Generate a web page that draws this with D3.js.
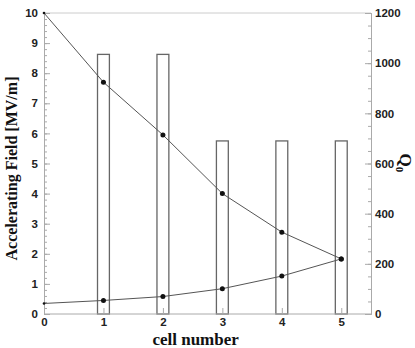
<!DOCTYPE html>
<html lang="en">
<head>
<meta charset="utf-8">
<title>Accelerating Field and Q0</title>
<style>
	body { margin: 0; background: #fff; }
	.tick text { font-family: "Liberation Sans", Arial, sans-serif; font-weight: bold; font-size: 11.5px; fill: #222; }
	.lbl { font-family: "Liberation Serif", "Times New Roman", serif; font-weight: bold; fill: #111; }
</style>
</head>
<body>
<div id="chart"></div>
<script src="https://cdn.jsdelivr.net/npm/d3@7"></script>
<script>
	// cells and values
	var cells = [0, 1, 2, 3, 4, 5];
	var fieldTop = [10, 7.7, 5.95, 4.0, 2.72, 1.83];
	var fieldBottom = [0.35, 0.45, 0.58, 0.84, 1.26, 1.83];
	var barCells = [1, 2, 3, 4, 5];
	var q0Values = [1035, 1035, 690, 690, 690];
	var xTicks = [0, 1, 2, 3, 4, 5];
	var yTicks = [0, 1, 2, 3, 4, 5, 6, 7, 8, 9, 10];
	var qTicks = [0, 200, 400, 600, 800, 1000, 1200];

	var width = 415, height = 348;
	var margin = { top: 13, right: 44, bottom: 34, left: 44 };
	var w = width - margin.left - margin.right,
		h = height - margin.top - margin.bottom;

	var svg = d3.select("#chart").append("svg")
		.attr("width", width)
		.attr("height", height)
		.append("g")
		.attr("transform", "translate(" + margin.left + "," + margin.top + ")");

	var x = d3.scaleLinear().domain([0, 5.5]).range([0, w]);
	var y = d3.scaleLinear().domain([0, 10]).range([h, 0]);
	var yq = d3.scaleLinear().domain([0, 1200]).range([h, 0]);

	var axisColor = "#aaa";

	// frame top line
	svg.append("line")
		.attr("x1", 0).attr("x2", w).attr("y1", 0).attr("y2", 0)
		.attr("stroke", "#ccc");

	// bars (Q0)
	svg.selectAll(".bar")
		.data(barCells)
		.enter().append("rect")
		.attr("class", "bar")
		.attr("x", function (d) { return x(d - 0.1); })
		.attr("width", x(0.2) - x(0))
		.attr("y", function (d, i) { return yq(q0Values[i]); })
		.attr("height", function (d, i) { return h - yq(q0Values[i]); })
		.attr("fill", "none")
		.attr("stroke", "#666")
		.attr("stroke-width", 1.3);

	// axes
	function styleAxis(g) {
		g.selectAll(".domain").attr("stroke", axisColor);
		g.selectAll(".tick line").attr("stroke", axisColor);
	}

	// x axis
	var gx = svg.append("g")
		.attr("transform", "translate(0," + h + ")")
		.call(d3.axisBottom(x).tickValues(xTicks).tickSize(-6).tickPadding(4).tickFormat(d3.format("d")))
		.call(styleAxis);
	gx.select(".domain").attr("d", "M0,0H" + w);

	// left axis
	svg.append("g")
		.call(d3.axisLeft(y).tickValues(d3.range(0, 10.01, 0.2)).tickSize(-3).tickFormat(""))
		.call(styleAxis);
	svg.append("g")
		.call(d3.axisLeft(y).tickValues(yTicks).tickSize(-6).tickPadding(6).tickFormat(d3.format("d")))
		.call(styleAxis);

	// right axis
	svg.append("g")
		.attr("transform", "translate(" + w + ",0)")
		.call(d3.axisRight(yq).tickValues(d3.range(0, 1201, 50)).tickSize(-3).tickFormat(""))
		.call(styleAxis);
	svg.append("g")
		.attr("transform", "translate(" + w + ",0)")
		.call(d3.axisRight(yq).tickValues(qTicks).tickSize(-6).tickPadding(4).tickFormat(d3.format("d")))
		.call(styleAxis);

	// lines
	var line = d3.line()
		.x(function (d) { return x(d[0]); })
		.y(function (d) { return y(d[1]); });

	[fieldTop, fieldBottom].forEach(function (series) {
		var pts = cells.map(function (c, i) { return [c, series[i]]; });
		svg.append("path")
			.datum(pts)
			.attr("fill", "none")
			.attr("stroke", "#555")
			.attr("stroke-width", 1)
			.attr("d", line);
		svg.append("g")
			.selectAll("circle")
			.data(pts).enter()
			.append("circle")
			.attr("cx", function (d) { return x(d[0]); })
			.attr("cy", function (d) { return y(d[1]); })
			.attr("r", function (d) { return d[0] === 0 ? 1.3 : 2.5; })
			.attr("fill", "#111");
	});

	// labels
	svg.append("text")
		.attr("class", "lbl")
		.attr("text-anchor", "middle")
		.attr("x", x(3) - (x(1) - x(0)) * 0.5 + 3)
		.attr("y", h + 31)
		.style("font-size", "17px")
		.text("cell number");

	svg.append("text")
		.attr("class", "lbl")
		.attr("text-anchor", "middle")
		.attr("transform", "translate(-27," + (h / 2 + 5) + ") rotate(-90)")
		.style("font-size", "16px")
		.text("Accelerating Field  [MV/m]");

	var q = svg.append("text")
		.attr("class", "lbl")
		.attr("transform", "translate(" + (w + 29) + "," + (h / 2 - 10) + ") rotate(90)")
		.style("font-size", "17px");
	q.append("tspan").text("Q");
	q.append("tspan").attr("dy", 4).style("font-size", "11px").text("0");
</script>
</body>
</html>
